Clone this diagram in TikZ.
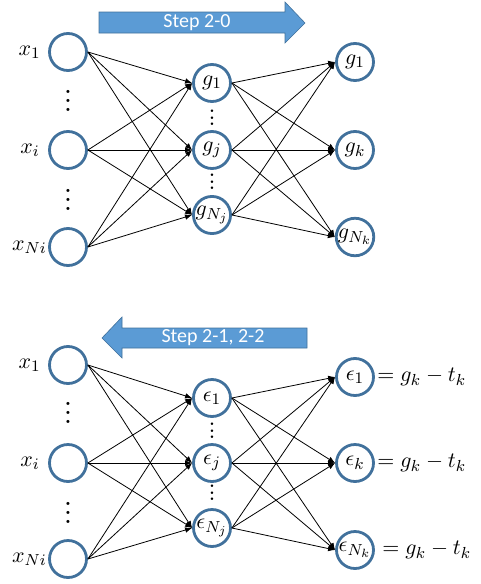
\documentclass[tikz,border=0pt]{standalone}
\usepackage{amsmath}
\usepackage{fontspec}
\newfontfamily\stepfont{Carlito}
\usetikzlibrary{positioning, arrows.meta}
\definecolor{ring}{RGB}{65,113,156}
\definecolor{band}{RGB}{91,155,213}
\newcommand\tridots[1]{\vbox{\baselineskip#1\lineskiplimit0pt\hbox{.}\hbox{.}\hbox{.}}}
\tikzset{
  unit/.style={circle,draw=ring,line width=1.4pt,fill=white,minimum size=18.5pt,
    inner sep=0pt,font=\fontsize{10.95}{13}\selectfont},
  lbl/.style={font=\fontsize{10.95}{13}\selectfont,inner sep=0.5pt},
  vdot/.style={font=\bfseries\fontsize{10}{11}\selectfont,inner sep=0pt},
  hdot/.style={font=\bfseries\fontsize{8}{9}\selectfont,inner sep=0pt},
  arr/.style={-{Latex[length=3.5pt,width=2.8pt]},line width=0.4pt},
  band/.style={fill=band,draw=ring,line width=0.3pt},
  steptxt/.style={font=\stepfont\fontsize{10}{12}\selectfont,text=white,inner sep=0pt},
}
\begin{document}
\begin{tikzpicture}[x=0.5pt,y=-0.5pt]
  \useasboundingbox (0,0) rectangle (481,584);
  % forward pass
  \draw[band] (99,12) -- (285,12) -- (285,2) -- (305,23) -- (285,43) -- (285,33) -- (99,33) -- cycle;
  \node[steptxt] (fwd) at (197,23) {Step 2-0};
  \node[unit] (a1) at (68,52) {};
  \node[unit] (ai) at (68,150) {};
  \node[unit] (aN) at (68,247) {};
  \node[unit] (b1) at (212,83) {$g_1$};
  \node[unit] (bj) at (212,150) {$g_j$};
  \node[unit] (bN) at (212,215) {$g_{N_j}$};
  \node[unit] (c1) at (355,62) {$g_1$};
  \node[unit] (ck) at (355,150) {$g_k$};
  \node[unit] (cN) at (355,237) {$g_{N_k}$};
  \node[lbl,left=3pt of a1] (la1) {$x_1$};
  \node[lbl,left=3.5pt of ai] (lai) {$x_i$};
  \node[lbl,left=0pt of aN] (laN) {$x_{Ni}$};
  \node[vdot] (da1) at (68,101) {\tridots{4.3pt}};
  \node[vdot] (da2) at (68,200) {\tridots{4.3pt}};
  \node[hdot] (db1) at (212,118) {\tridots{3.3pt}};
  \node[hdot] (db2) at (212,182) {\tridots{3.3pt}};
  \foreach \s in {a1,ai,aN}
    \foreach \t in {b1,bj,bN}
      \draw[arr] (\s.east) -- (\t.west);
  \foreach \s in {b1,bj,bN}
    \foreach \t in {c1,ck,cN}
      \draw[arr] (\s.east) -- (\t.west);

  % backward pass
  \draw[band] (307,328) -- (122,328) -- (122,317) -- (102,338) -- (122,358) -- (122,348) -- (307,348) -- cycle;
  \node[steptxt] (bwd) at (213,338) {Step 2-1, 2-2};
  \node[unit] (p1) at (68,365) {};
  \node[unit] (pi) at (68,463) {};
  \node[unit] (pN) at (68,559) {};
  \node[unit] (q1) at (212,398) {$\epsilon_1$};
  \node[unit] (qj) at (212,463) {$\epsilon_j$};
  \node[unit] (qN) at (212,528) {$\epsilon_{N_j}$};
  \node[unit] (r1) at (355,377) {$\epsilon_1$};
  \node[unit] (rk) at (355,463) {$\epsilon_k$};
  \node[unit] (rN) at (355,550) {$\epsilon_{N_k}$};
  \node[lbl,left=3pt of p1] (lp1) {$x_1$};
  \node[lbl,left=3.5pt of pi] (lpi) {$x_i$};
  \node[lbl,left=0pt of pN] (lpN) {$x_{Ni}$};
  \node[lbl,right=0.5pt of r1] (er1) {$=g_k-t_k$};
  \node[lbl,right=0.5pt of rk] (erk) {$=g_k-t_k$};
  \node[lbl,right=3pt of rN] (erN) {$=g_k-t_k$};
  \node[vdot] (dp1) at (68,413) {\tridots{4.3pt}};
  \node[vdot] (dp2) at (68,513) {\tridots{4.3pt}};
  \node[hdot] (dq1) at (212,431) {\tridots{3.3pt}};
  \node[hdot] (dq2) at (212,493) {\tridots{3.3pt}};
  \foreach \s in {p1,pi,pN}
    \foreach \t in {q1,qj,qN}
      \draw[arr] (\s.east) -- (\t.west);
  \foreach \s in {q1,qj,qN}
    \foreach \t in {r1,rk,rN}
      \draw[arr] (\s.east) -- (\t.west);
\end{tikzpicture}
\end{document}
